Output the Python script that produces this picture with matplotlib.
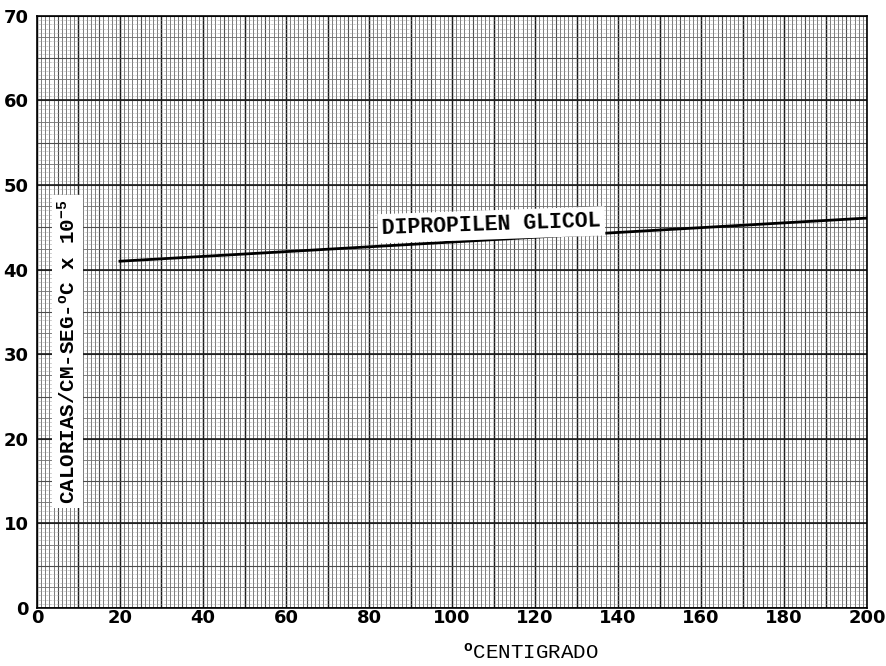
import numpy as np
import matplotlib.pyplot as plt

# data
temp_c = [20, 200]
conductivity = [41.0, 46.1]
x_ticks = [0, 20, 40, 60, 80, 100, 120, 140, 160, 180, 200]
y_ticks = [0, 10, 20, 30, 40, 50, 60, 70]
series_label = "DIPROPILEN GLICOL"
y_label = r"CALORIAS/CM-SEG-$^{\mathrm{o}}$C x 10$^{-5}$"
x_label = r"$^{\mathrm{o}}$CENTIGRADO"

mono = ["Liberation Mono", "DejaVu Sans Mono"]
plt.rcParams["mathtext.fontset"] = "custom"
plt.rcParams["mathtext.rm"] = "Liberation Mono:bold"
plt.rcParams["mathtext.default"] = "rm"

fig = plt.figure(figsize=(8.87, 6.66), dpi=100)
ax = fig.add_axes([0.0417, 0.0871, 0.9358, 0.889])
ax.set_xlim(0, 200)
ax.set_ylim(0, 70)

# graph-paper grid
ax.vlines(np.arange(0, 201, 1), 0, 70, color="0.4", lw=0.6, zorder=1)
ax.vlines(np.arange(0, 201, 5), 0, 70, color="0.3", lw=0.8, zorder=1)
ax.vlines(np.arange(0, 201, 10), 0, 70, color="0.1", lw=1.0, zorder=1)
ax.hlines(np.arange(0, 70.01, 0.5), 0, 200, color="0.6", lw=0.5,
          linestyles=(0, (1, 1)), zorder=1)
ax.hlines(np.arange(0, 70.01, 2.5), 0, 200, color="0.45", lw=0.6, zorder=1)
ax.hlines(np.arange(0, 70.01, 5), 0, 200, color="0.3", lw=0.8, zorder=1)
ax.hlines(np.arange(0, 70.01, 10), 0, 200, color="0.1", lw=1.2, zorder=1)

ax.plot(temp_c, conductivity, color="black", lw=2.0, zorder=3)

ax.text(109.5, 45.3, series_label, family=mono, fontsize=15.5, fontweight="bold",
        ha="center", va="center", rotation=2, zorder=4,
        bbox=dict(facecolor="white", edgecolor="none", pad=3))
ax.text(7.4, 30.3, y_label, family=mono, fontsize=15, fontweight="bold",
        ha="center", va="center", rotation=90, zorder=4,
        bbox=dict(facecolor="white", edgecolor="none", pad=3))

ax.set_xticks(x_ticks)
ax.set_yticks(y_ticks)
ax.tick_params(length=0, labelsize=13)
ax.tick_params(axis="x", pad=1)
ax.tick_params(axis="y", pad=6)
for lab in ax.get_xticklabels() + ax.get_yticklabels():
    lab.set_fontweight("bold")
for s in ax.spines.values():
    s.set_linewidth(1.2)

fig.text(0.598, 0.02, x_label, family=mono, fontsize=15, ha="center", va="center")

fig.savefig("out.png", dpi=100)
